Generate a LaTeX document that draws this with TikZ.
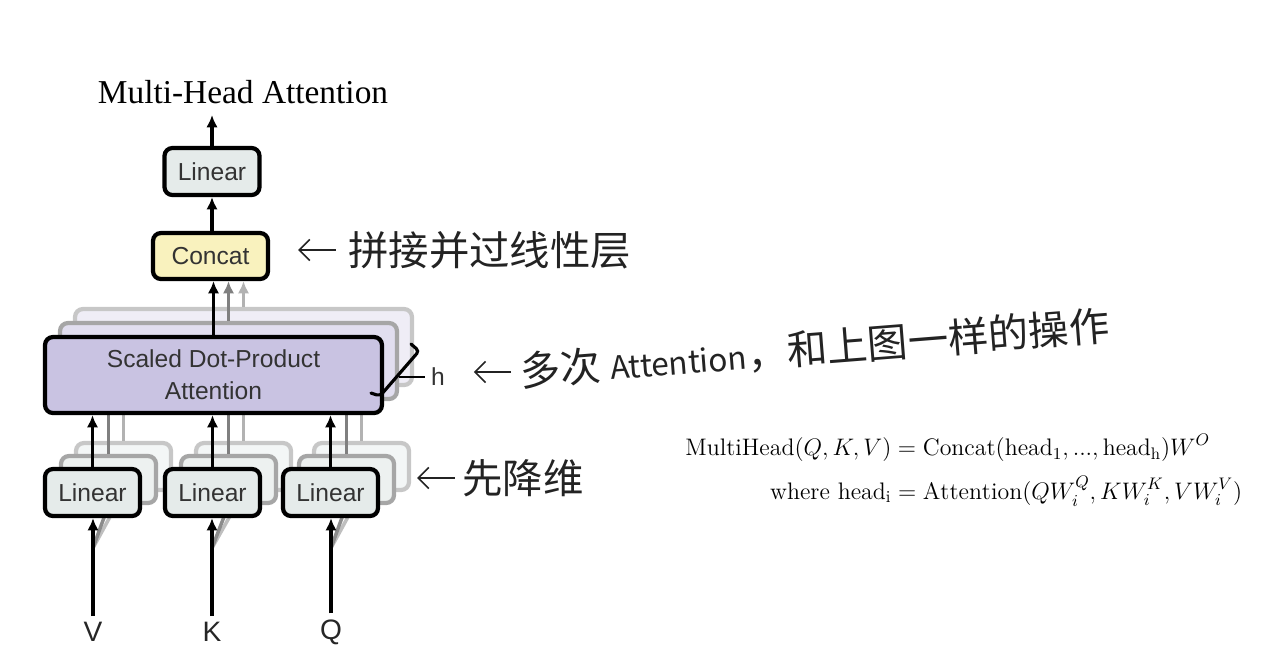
\RequirePackage{fix-cm}
\documentclass[tikz,border=0pt]{standalone}
\usepackage{amsmath}
\usepackage{fontspec}
\newfontfamily\labelfont{Liberation Sans}
\newfontfamily\titlefont{Liberation Serif}
\newfontfamily\cjk{Noto Sans CJK SC}
\usetikzlibrary{arrows.meta, positioning, calc}

\definecolor{linfill}{RGB}{229,235,234}
\definecolor{catfill}{RGB}{249,242,190}
\definecolor{attfill}{RGB}{201,195,226}
\definecolor{inkgray}{RGB}{35,35,35}

\begin{document}
\begin{tikzpicture}[
    x=0.02cm, y=-0.02cm,
    box/.style={rectangle, draw, rounded corners=4.5pt, line width=2.4pt, align=center, text=black!80, font=\labelfont\fontsize{14}{18}\selectfont},
    linear/.style={box, fill=linfill, minimum width=1.9cm, minimum height=0.94cm},
    linback/.style={linear, draw=black!35, fill=linfill!70},
    concat/.style={box, fill=catfill, minimum width=2.3cm, minimum height=0.92cm},
    attn/.style={box, fill=attfill, minimum width=6.74cm, minimum height=1.52cm},
    attnback/.style={attn, draw=black!35, fill=attfill!55},
    arrow/.style={-{Latex[length=7pt, width=6.5pt]}, line width=2pt},
    grayarrow/.style={arrow, draw=black!50, fill=black!50},
    hand/.style={-{Straight Barb[length=6pt, width=12pt]}, line width=0.9pt, draw=inkgray},
    note/.style={anchor=west, inner sep=0pt, text=inkgray, font=\cjk\fontsize{23}{26}\selectfont}
]
\useasboundingbox (0,0) rectangle (1280,664);

\node[font=\titlefont\fontsize{19}{22}\selectfont] (title) at (243,92) {Multi-Head Attention};
\coordinate (out_tip) at (212,115);

\node[linear]  (lin_out) at (212,171.5) {Linear};
\node[concat]  (concat)  at (210.5,256) {Concat};

% stacked heads (back to front)
\node[attnback, draw=black!22, fill=attfill!30] (sdpa3) at (243.5,347) {};
\node[attnback] (sdpa2) at (228.5,361) {};

\node[linback, draw=black!22, fill=linfill!45] (lin_v3) at (123.5,466.5) {};
\node[linback, draw=black!22, fill=linfill!45] (lin_k3) at (243.5,466.5) {};
\node[linback, draw=black!22, fill=linfill!45] (lin_q3) at (361.5,466.5) {};
\node[linback] (lin_v2) at (108.5,479.5) {};
\node[linback] (lin_k2) at (228.5,479.5) {};
\node[linback] (lin_q2) at (346.5,479.5) {};

\node[font=\labelfont\fontsize{16}{18}\selectfont, text=black!85] (in_v) at (93,632) {V};
\node[font=\labelfont\fontsize{16}{18}\selectfont, text=black!85] (in_k) at (212,632) {K};
\node[font=\labelfont\fontsize{16}{18}\selectfont, text=black!85] (in_q) at (331,632) {Q};

\coordinate (v_fork) at (93,548);
\coordinate (k_fork) at (212,548);
\coordinate (q_fork) at (331,548);

% gray edges of the hidden heads
\draw[grayarrow, draw=black!25, fill=black!25] (v_fork) -- (lin_v3.south);
\draw[grayarrow, draw=black!25, fill=black!25] (k_fork) -- (lin_k3.south);
\draw[grayarrow, draw=black!25, fill=black!25] (q_fork) -- (lin_q3.south);
\draw[grayarrow, draw=black!45, fill=black!45] (v_fork) -- (lin_v2.south);
\draw[grayarrow, draw=black!45, fill=black!45] (k_fork) -- (lin_k2.south);
\draw[grayarrow, draw=black!45, fill=black!45] (q_fork) -- (lin_q2.south);

\draw[grayarrow, draw=black!30, fill=black!30] (lin_v3.north) -- (lin_v3.north |- sdpa3.south);
\draw[grayarrow, draw=black!30, fill=black!30] (lin_k3.north) -- (lin_k3.north |- sdpa3.south);
\draw[grayarrow, draw=black!30, fill=black!30] (lin_q3.north) -- (lin_q3.north |- sdpa3.south);
\draw[grayarrow] (lin_v2.north) -- (lin_v2.north |- sdpa2.south);
\draw[grayarrow] (lin_k2.north) -- (lin_k2.north |- sdpa2.south);
\draw[grayarrow] (lin_q2.north) -- (lin_q2.north |- sdpa2.south);

\draw[grayarrow, draw=black!30, fill=black!30] (sdpa3.north) -- (sdpa3.north |- concat.south);
\draw[grayarrow] (sdpa2.north) -- (sdpa2.north |- concat.south);

% front head
\node[attn]   (sdpa)  at (213.5,375) {Scaled Dot-Product\\Attention};
\node[linear] (lin_v) at (92.5,492.5) {Linear};
\node[linear] (lin_k) at (212.5,492.5) {Linear};
\node[linear] (lin_q) at (330.5,492.5) {Linear};

% Edges
\draw[arrow] (in_v.north) -- (in_v.north |- lin_v.south);
\draw[arrow] (in_k.north) -- (in_k.north |- lin_k.south);
\draw[arrow] (in_q.north) -- (in_q.north |- lin_q.south);

\draw[arrow] (lin_v.north) -- (lin_v.north |- sdpa.south);
\draw[arrow] (lin_k.north) -- (lin_k.north |- sdpa.south);
\draw[arrow] (lin_q.north) -- (lin_q.north |- sdpa.south);

\draw[arrow] (sdpa.north) -- (sdpa.north |- concat.south);
\draw[arrow] (concat.north -| lin_out) -- (lin_out.south);
\draw[arrow] (lin_out.north) -- (out_tip);

% h heads
\draw[line width=1.8pt, line cap=round, rounded corners=2pt] (411,344) -- (419,351) -- (380,396) -- (371,393);
\node[font=\labelfont\fontsize{14}{16}\selectfont, text=black!80] (heads) at (438,377) {h};
\draw[line width=1pt] (heads.west) -- ++(-26,0);

% handwritten notes
\node[note] (note_concat) at (348,250) {拼接并过线性层};
\node[note, rotate=4.5] (note_heads) at (520,372) {多次 {\fontsize{18}{20}\selectfont Attention}，和上图一样的操作};
\node[note] (note_proj) at (462,478) {先降维};

\draw[hand, shorten <=7pt, shorten >=16pt] (note_concat.west) -- (concat.east |- note_concat.west);
\draw[hand, shorten <=5pt, shorten >=13pt] (note_heads.west) -- (heads.east |- note_heads.west);
\draw[hand, shorten <=4pt, shorten >=12pt] (note_proj.west) -- (lin_q2.east |- note_proj.west);

% formula
\node[anchor=west, inner sep=0pt, font=\fontsize{13.6}{16}\selectfont] (formula) at (685,471) {$\begin{aligned}
  \mathrm{MultiHead}(Q,K,V) &= \mathrm{Concat}(\mathrm{head}_1,...,\mathrm{head}_\mathrm{h})W^O\\[3pt]
  \text{where }\mathrm{head}_\mathrm{i} &= \mathrm{Attention}(QW^Q_i,KW^K_i,VW^V_i)
\end{aligned}$};

\end{tikzpicture}
\end{document}
